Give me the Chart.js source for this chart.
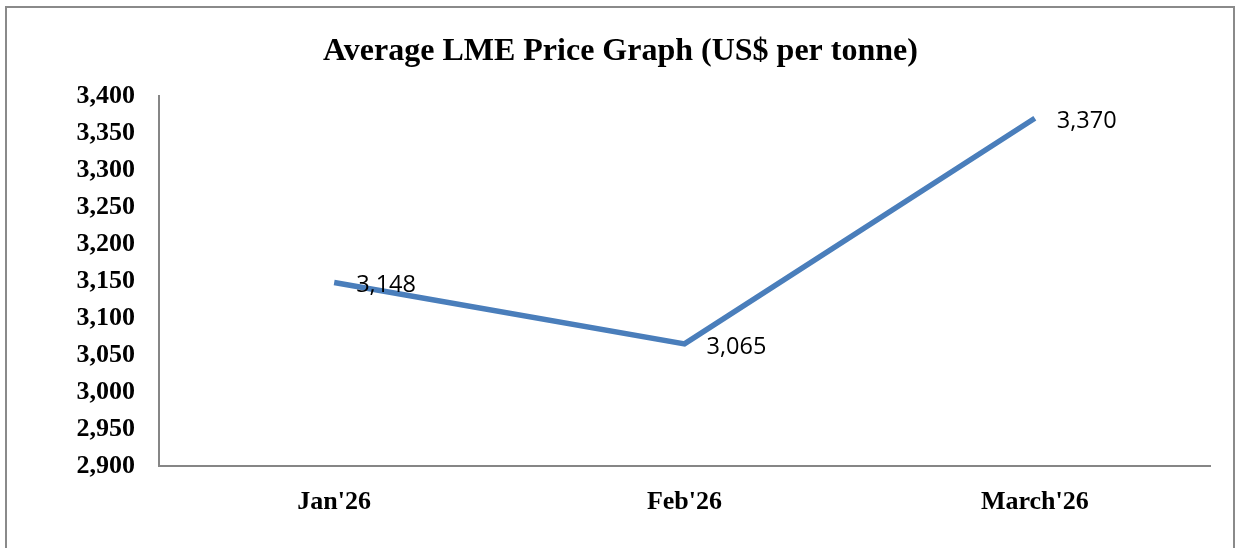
<!DOCTYPE html>
<html>
<head>
<meta charset="utf-8">
<script src="https://cdn.jsdelivr.net/npm/chart.js@4.4.0/dist/chart.umd.min.js"></script>
<style>
  html, body { margin: 0; padding: 0; background: #fff; overflow: hidden; }
  #frame {
    position: absolute; left: 5px; top: 6px; width: 1230px; height: 600px;
    border: 2px solid #8a8a8a; box-sizing: border-box;
  }
  #wrap { position: absolute; left: 0; top: 0; width: 1241px; height: 548px; }
</style>
</head>
<body>
<div id="frame"></div>
<div id="wrap"><canvas id="lmeChart" width="1241" height="548"></canvas></div>
<script>
"use strict";

// data
const months = ["Jan'26", "Feb'26", "March'26"];
const avgPrice = [3148, 3065, 3370];
const yTicks = [2900, 2950, 3000, 3050, 3100, 3150, 3200, 3250, 3300, 3350, 3400];

const serif = "'Liberation Serif', 'Times New Roman', serif";

// value labels to the right of each point
const valueLabels = {
    id: 'valueLabels',
    afterDatasetsDraw(chart) {
        const ctx = chart.ctx;
        const meta = chart.getDatasetMeta(0);
        ctx.save();
        ctx.font = "23.5px 'Open Sans', sans-serif";
        ctx.fillStyle = '#000';
        ctx.textAlign = 'left';
        ctx.textBaseline = 'middle';
        meta.data.forEach((pt, i) => {
            ctx.fillText(avgPrice[i].toLocaleString('en-US'), pt.x + 22, pt.y + 3);
        });
        ctx.restore();
    }
};

const ctx = document.getElementById('lmeChart');

new Chart(ctx, {
    type: 'line',
    data: {
        labels: months,
        datasets: [{
            data: avgPrice,
            borderColor: '#4a7ebb',
            borderWidth: 5.5,
            pointRadius: 0,
            tension: 0,
            fill: false
        }]
    },
    options: {
        responsive: false,
        animation: false,
        devicePixelRatio: 1,
        layout: { padding: 0 },
        plugins: {
            legend: { display: false },
            tooltip: { enabled: false },
            title: {
                display: true,
                text: 'Average LME Price Graph (US$ per tonne)',
                color: '#000',
                font: { family: serif, size: 32, weight: 'bold', lineHeight: 1.2 },
                padding: { top: 33, bottom: 24.6 }
            }
        },
        scales: {
            x: {
                offset: true,
                grid: { display: false, drawTicks: false },
                border: { color: '#868686', width: 2 },
                ticks: {
                    color: '#000',
                    padding: 21,
                    maxRotation: 0,
                    font: { family: serif, size: 26, weight: 'bold' }
                },
                afterFit(scale) { scale.height = 548 - 466; }
            },
            y: {
                min: 2900,
                max: 3400,
                grid: { display: false, drawTicks: false },
                border: { color: '#868686', width: 2 },
                afterBuildTicks(scale) { scale.ticks = yTicks.map(v => ({ value: v })); },
                ticks: {
                    color: '#000',
                    padding: 24,
                    font: { family: serif, size: 26, weight: 'bold' },
                    callback: (v) => v.toLocaleString('en-US')
                },
                afterFit(scale) { scale.width = 159; }
            },
            // empty right-side spacer so the title stays centred on the canvas
            yRight: {
                position: 'right',
                min: 2900,
                max: 3400,
                grid: { display: false, drawTicks: false },
                border: { display: false },
                ticks: { display: false },
                afterFit(scale) { scale.width = 31; }
            }
        }
    },
    plugins: [valueLabels]
});
</script>
</body>
</html>
